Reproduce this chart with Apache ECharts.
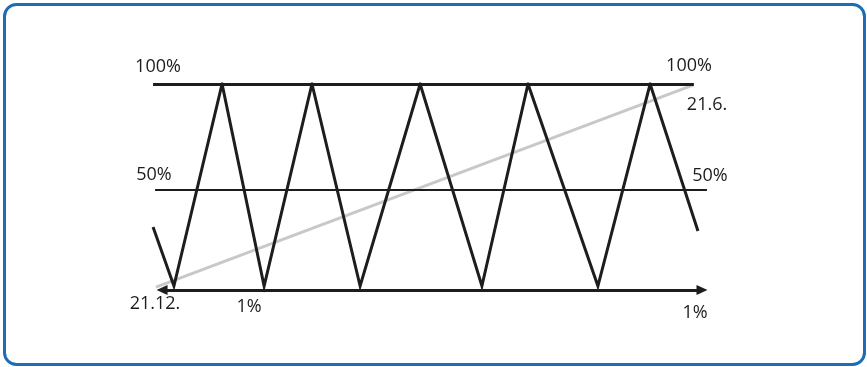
<!DOCTYPE html>
<html>
<head>
<meta charset="utf-8">
<script src="https://cdn.jsdelivr.net/npm/echarts@6/dist/echarts.min.js"></script>
<style>
  html, body { margin: 0; padding: 0; background: #fff; }
  #chart { width: 867px; height: 367px; }
</style>
</head>
<body>
<div id="chart"></div>
<script>
// zigzag (x = position along the base, y = percent)
const waveX = [4.5, 11.7, 28.3, 42.8, 59.3, 75.9, 96.6, 117.9, 133.8, 157.9, 175.9, 192.4];
const waveY = [32.5, 4.7, 100, 4.7, 100, 4.7, 100, 4.7, 100, 4.7, 100, 30.7];

// grey rising line from 21.12. to 21.6.
const trendX = [5.5, 190.7];
const trendY = [4.2, 99.5];

// horizontal levels: value, start, end
const levelValues = [100, 50];
const levelStart = [4.5, 5.2];
const levelEnd = [191, 195.5];

// base arrow
const baseValue = 2.8;
const baseStart = 7.6;
const baseEnd = 193.8;

// texts
const levelLabels = ['100%', '50%', '1%'];
const dateLabels = ['21.12.', '21.6.'];

const ink = '#1d1d1b';
const font = { fontFamily: 'Open Sans', fontSize: 18, fill: ink };

const pairs = (xs, ys) => xs.map((x, i) => [x, ys[i]]);

const levelLines = levelValues.map((v, i) => [
  { coord: [levelStart[i], v], lineStyle: { width: i === 0 ? 3 : 1.8 } },
  { coord: [levelEnd[i], v] }
]);

const txt = (text, x, y) => ({
  type: 'text',
  style: Object.assign({ text: text, x: x, y: y, align: 'center', verticalAlign: 'middle' }, font)
});

let chart = echarts.init(document.getElementById('chart'), null, { renderer: 'canvas' });

let option = {
  animation: false,
  backgroundColor: '#fff',
  grid: { left: 140, width: 580, top: 84, height: 212 },
  xAxis: { type: 'value', min: 0, max: 200, show: false },
  yAxis: { type: 'value', min: 0, max: 100, show: false },
  series: [
    {
      name: 'trend',
      type: 'line',
      data: pairs(trendX, trendY),
      symbol: 'none',
      silent: true,
      z: 1,
      lineStyle: { color: '#c8c8c8', width: 3 }
    },
    {
      name: 'levels',
      type: 'line',
      data: [],
      z: 2,
      markLine: {
        silent: true,
        symbol: ['none', 'none'],
        label: { show: false },
        lineStyle: { color: ink, type: 'solid', width: 3 },
        data: levelLines
      }
    },
    {
      name: 'base',
      type: 'line',
      data: [],
      z: 2,
      markLine: {
        silent: true,
        symbol: ['triangle', 'triangle'],
        symbolSize: [10, 11],
        label: { show: false },
        lineStyle: { color: ink, type: 'solid', width: 3 },
        itemStyle: { color: ink },
        data: [[{ coord: [baseStart, baseValue] }, { coord: [baseEnd, baseValue] }]]
      }
    },
    {
      name: 'wave',
      type: 'line',
      data: pairs(waveX, waveY),
      symbol: 'none',
      silent: true,
      z: 3,
      lineStyle: { color: ink, width: 3, join: 'miter' }
    }
  ],
  graphic: [
    {
      type: 'rect',
      shape: { x: 4.5, y: 4.5, width: 860, height: 360, r: 12 },
      style: { fill: 'none', stroke: '#1c6db5', lineWidth: 3 },
      silent: true
    },
    txt(levelLabels[0], 158, 67),
    txt(levelLabels[0], 689, 66),
    txt(dateLabels[1], 707, 105),
    txt(levelLabels[1], 154, 175),
    txt(levelLabels[1], 710, 176),
    txt(dateLabels[0], 155, 304),
    txt(levelLabels[2], 249, 307),
    txt(levelLabels[2], 695, 313)
  ]
};

chart.setOption(option);
</script>
</body>
</html>
